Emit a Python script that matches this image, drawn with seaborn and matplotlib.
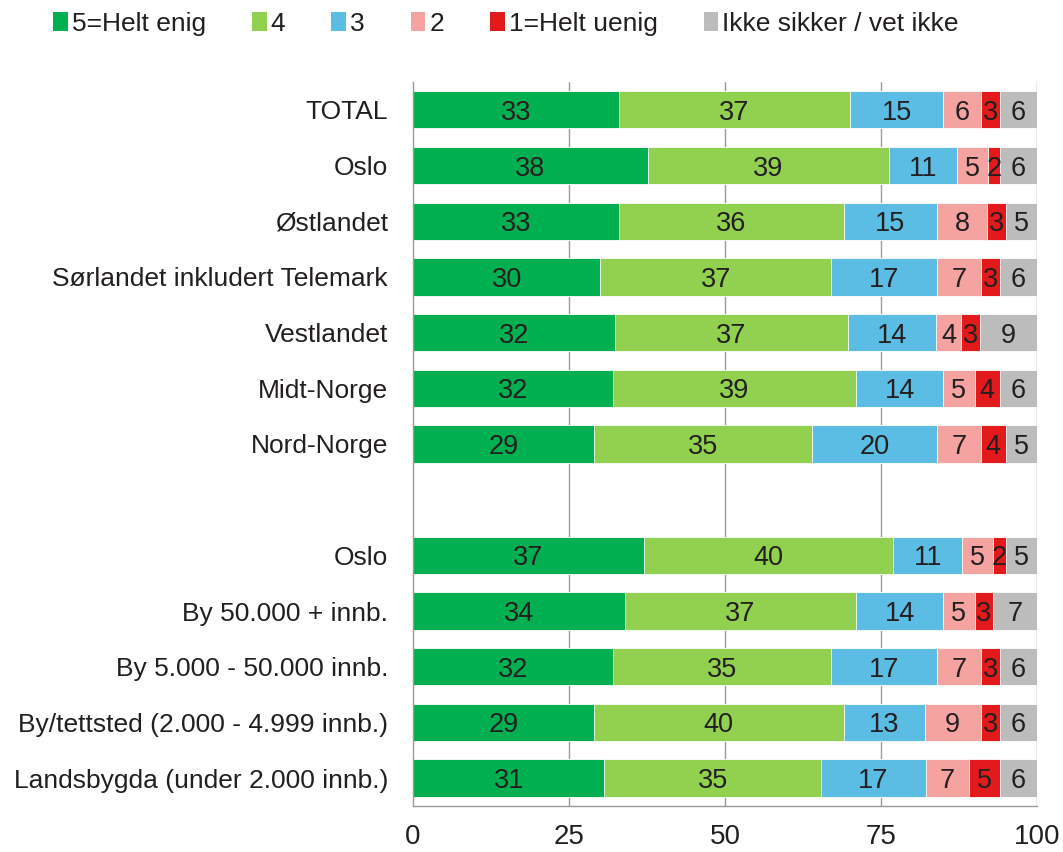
import numpy as np
import pandas as pd
import matplotlib
matplotlib.use("Agg")
import matplotlib.pyplot as plt
from matplotlib.patches import Patch
import seaborn as sns

# rows (top to bottom); a blank slot sits between the two groups
regions = ["TOTAL", "Oslo", "Østlandet", "Sørlandet inkludert Telemark",
           "Vestlandet", "Midt-Norge", "Nord-Norge"]
places = ["Oslo", "By 50.000 + innb.", "By 5.000 - 50.000 innb.",
          "By/tettsted (2.000 - 4.999 innb.)", "Landsbygda (under 2.000 innb.)"]

answers = ["5=Helt enig", "4", "3", "2", "1=Helt uenig", "Ikke sikker / vet ikke"]
colors  = ["#00B050", "#92D050", "#5BBDE3", "#F5A3A0", "#E31A1C", "#BBBCBB"]

helt_enig   = [33, 38, 33, 30, 32, 32, 29, 37, 34, 32, 29, 31]
score_4     = [37, 39, 36, 37, 37, 39, 35, 40, 37, 35, 40, 35]
score_3     = [15, 11, 15, 17, 14, 14, 20, 11, 14, 17, 13, 17]
score_2     = [6, 5, 8, 7, 4, 5, 7, 5, 5, 7, 9, 7]
helt_uenig  = [3, 2, 3, 3, 3, 4, 4, 2, 3, 3, 3, 5]
vet_ikke    = [6, 6, 5, 6, 9, 6, 5, 5, 7, 6, 6, 6]

TEXT = "#231F20"
GRID = "#9A9A9A"
FS = 19

sns.set_style("white")
plt.rcParams["font.family"] = ["Liberation Sans", "DejaVu Sans"]
plt.rcParams["text.color"] = TEXT

row_labels = regions + [""] + places
keys = [f"r{i}" for i in range(len(row_labels))]
data_keys = keys[:len(regions)] + keys[len(regions) + 1:]

vals = np.array([helt_enig, score_4, score_3, score_2, helt_uenig, vet_ikke], dtype=float)
share = vals / vals.sum(axis=0) * 100      # rounded numbers don't always add to 100
ends = np.cumsum(share, axis=0)

rows = []
for j, k in enumerate(data_keys):
    for i, a in enumerate(answers):
        rows.append({"key": k, "answer": a, "value": vals[i, j],
                     "start": ends[i, j] - share[i, j], "end": ends[i, j]})
df = pd.DataFrame(rows)

fig = plt.figure(figsize=(10.63, 8.52), dpi=100)
ax = fig.add_axes([0.3885, 0.054, 0.587, 0.8498])

for x in [25, 50, 75, 100]:
    ax.axvline(x, color=GRID, lw=1, zorder=0)

# stacked bars: draw the cumulative ends back to front
for a, c in reversed(list(zip(answers, colors))):
    sub = df[df["answer"] == a]
    sns.barplot(data=sub, x="end", y="key", order=keys, orient="h",
                color=c, saturation=1, width=0.67, edgecolor="white",
                linewidth=0.6, errorbar=None, ax=ax, zorder=2)

for _, r in df.iterrows():
    ax.text((r["start"] + r["end"]) / 2, keys.index(r["key"]), f"{r['value']:.0f}",
            ha="center", va="center_baseline", fontsize=FS + 0.5, color=TEXT, zorder=3)

ax.set_xlim(0, 100)
ax.set_ylim(len(keys) - 0.5, -0.5)
ax.set_xticks([0, 25, 50, 75, 100])
ax.set_xticklabels(["0", "25", "50", "75", "100"], fontsize=FS + 1, color=TEXT)
ax.set_yticks(range(len(keys)))
ax.set_yticklabels(row_labels, fontsize=FS, color=TEXT)
ax.set_yticks(np.arange(-0.5, len(keys), 1), minor=True)
ax.tick_params(axis="y", which="major", length=0, pad=18)
ax.tick_params(axis="y", which="minor", length=7, color=GRID, width=1)
ax.tick_params(axis="x", length=6, color=GRID, width=1, pad=7)
ax.set_xlabel("")
ax.set_ylabel("")
for s in ["top", "right"]:
    ax.spines[s].set_visible(False)
for s in ["left", "bottom"]:
    ax.spines[s].set_color(GRID)
    ax.spines[s].set_linewidth(1)

handles = [Patch(facecolor=c, edgecolor="none") for c in colors]
fig.legend(handles, answers, loc="center", bbox_to_anchor=(0.476, 0.972), ncol=6,
           frameon=False, fontsize=FS, handlelength=0.55, handleheight=0.75,
           handletextpad=0.15, columnspacing=1.75)

fig.savefig("out.png", dpi=100)
